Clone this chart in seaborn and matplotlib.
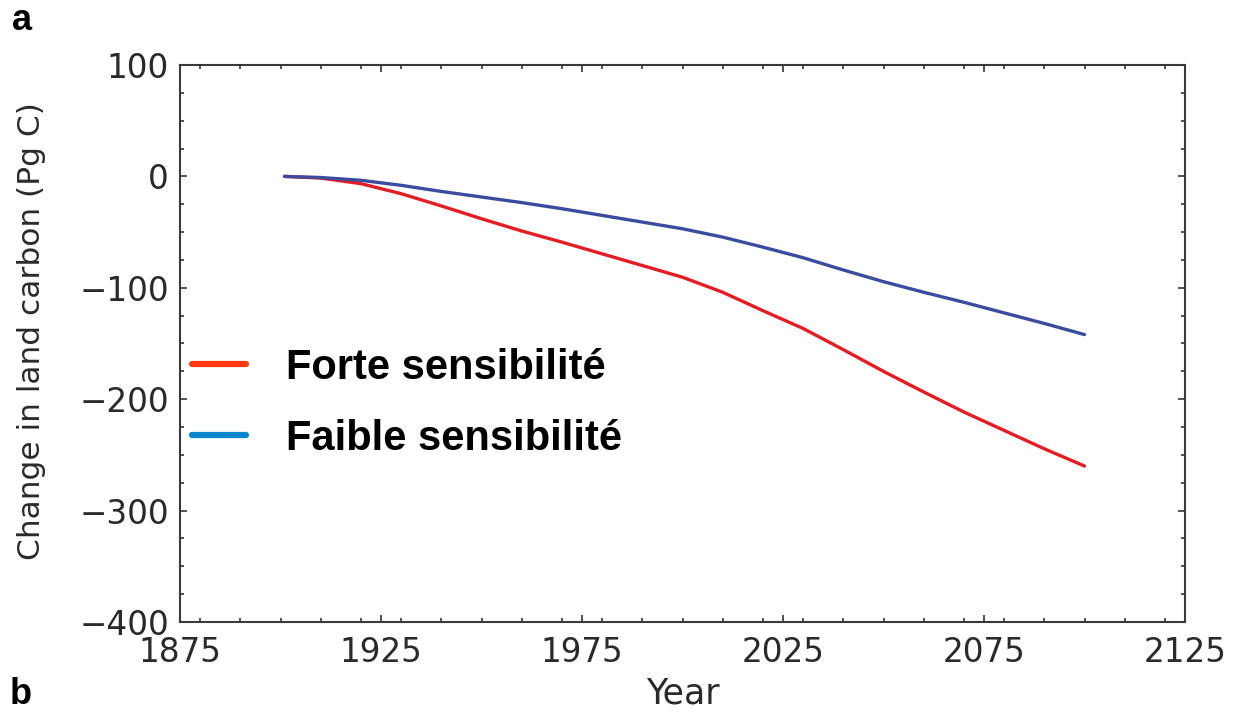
import numpy as np
import pandas as pd
import matplotlib
matplotlib.use("Agg")
import matplotlib.pyplot as plt
from matplotlib.lines import Line2D
from matplotlib.ticker import MultipleLocator
import seaborn as sns

# ---- data ----
years = [1901, 1910, 1920, 1930, 1940, 1950, 1960, 1970, 1980, 1990, 2000,
         2010, 2020, 2030, 2040, 2050, 2060, 2070, 2080, 2090, 2100]
forte = [0, -1.5, -6.5, -15.5, -26.5, -38, -49, -59, -69.5, -80, -90.5,
         -104, -120.5, -136.5, -155.5, -175, -193.5, -211.5, -228, -244.5, -260]
faible = [0, -1, -3.5, -8, -13.5, -18.5, -23.5, -29, -35, -41, -47,
          -54.5, -63.5, -73, -84, -94.5, -104, -113, -122.5, -132, -142]
series_names = ["Forte sensibilité", "Faible sensibilité"]
xticks = [1875, 1925, 1975, 2025, 2075, 2125]
yticks = [-400, -300, -200, -100, 0, 100]

df = pd.DataFrame({
    "Year": years * 2,
    "Carbon": forte + faible,
    "Series": [series_names[0]] * len(years) + [series_names[1]] * len(years),
})

sns.set_theme(style="ticks")
plt.rcParams["font.family"] = ["DejaVu Sans"]

fig = plt.figure(figsize=(12.42, 7.12), dpi=100)
ax = fig.add_axes([180 / 1242, 1 - 622 / 712, (1185 - 180) / 1242, (622 - 65) / 712])

line_colors = {series_names[0]: "#e41d24", series_names[1]: "#3b4c9f"}
sns.lineplot(data=df, x="Year", y="Carbon", hue="Series", palette=line_colors,
             linewidth=2.4, legend=False, ax=ax)

ax.set_xlim(1875, 2125)
ax.set_ylim(-400, 100)
ax.set_xticks(xticks)
ax.set_yticks(yticks)
ax.xaxis.set_minor_locator(MultipleLocator(10))
ax.yaxis.set_minor_locator(MultipleLocator(25))
ax.tick_params(which="both", direction="in", top=True, right=True,
               color="#333333", width=1.2)
ax.tick_params(which="major", length=5, labelsize=23.5, labelcolor="#2a2a2a")
ax.tick_params(axis="x", which="major", pad=10)
ax.tick_params(axis="y", which="major", pad=8)
ax.tick_params(which="minor", length=3)
for s in ax.spines.values():
    s.set_color("#3a3a3a")
    s.set_linewidth(1.5)

ax.set_xlabel("Year", fontsize=25, color="#2a2a2a")
ax.set_ylabel("Change in land carbon (Pg C)", fontsize=22.5, color="#2a2a2a")
ax.xaxis.set_label_coords(0.5, -0.097)
ax.yaxis.set_label_coords(-0.133, 0.523)

# custom legend
handles = [Line2D([0], [0], color="#ff3a10", lw=4.5),
           Line2D([0], [0], color="#0a86cc", lw=4.5)]
leg = ax.legend(handles, series_names, loc="upper left",
                bbox_to_anchor=(192 / 1242, 1 - 348 / 712), bbox_transform=fig.transFigure,
                frameon=False, borderpad=0, borderaxespad=0,
                handlelength=1.3, handletextpad=0.95, labelspacing=0.74,
                prop={"family": "Liberation Sans", "weight": "bold", "size": 30})
for t in leg.get_texts():
    t.set_color("black")

# panel letters
fig.text(12 / 1242, 1 - 30 / 712, "a", fontsize=26, fontweight="bold",
         family="Liberation Sans", va="baseline", ha="left", color="black")
fig.text(10 / 1242, 1 - 704 / 712, "b", fontsize=26, fontweight="bold",
         family="Liberation Sans", va="baseline", ha="left", color="black")

fig.savefig("out.png", dpi=100)
